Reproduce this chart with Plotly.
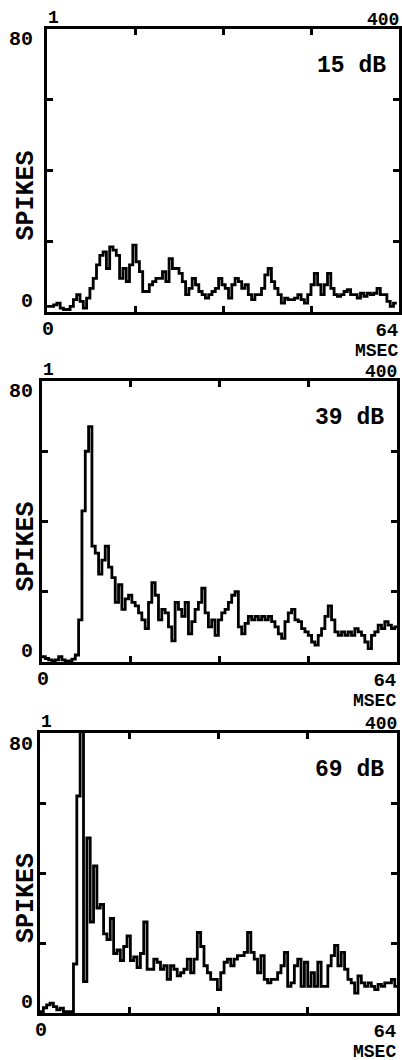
import plotly.graph_objects as go

# ---------------- data (spike counts per 0.6 ms bin) ----------------
BIN_MS = 0.6
X_MAX_MS = 64
Y_MAX_SPIKES = 80
Y_TICKS = [20, 40, 60]
X_TICKS = [16, 32, 48]
LEVELS = ["15 dB", "39 dB", "69 dB"]

spikes_15db = [1.6, 1.6, 2.0, 2.5, 1.1, 0.7, 0.7, 1.6, 3.5, 4.9, 3.0, 1.1, 3.9, 6.7, 9.5,
               13.3, 16.0, 17.0, 12.3, 18.4, 17.5, 16.0, 9.5, 12.3, 8.6, 13.3, 18.9, 14.2,
               11.4, 5.8, 5.8, 7.7, 8.6, 9.5, 9.5, 11.4, 8.6, 15.1, 12.3, 12.3, 10.9, 8.6,
               4.9, 6.7, 9.5, 7.7, 5.8, 4.9, 3.9, 4.9, 5.8, 6.7, 9.5, 7.7, 6.7, 3.9, 7.7,
               9.5, 8.6, 6.7, 7.7, 4.9, 3.5, 4.9, 4.9, 6.7, 10.5, 12.3, 8.6, 6.7, 4.9, 2.5,
               3.9, 3.5, 3.5, 3.9, 4.9, 3.5, 2.5, 4.9, 7.7, 10.9, 7.7, 4.9, 7.7, 10.9, 6.7,
               4.9, 4.4, 4.9, 5.8, 6.3, 4.9, 4.9, 3.9, 5.3, 4.4, 5.3, 4.9, 5.3, 6.7, 4.9,
               4.9, 3.0, 1.6, 2.5]

spikes_39db = [1.5, 1.0, 0.6, 0.3, 0.6, 1.5, 0.6, 0.2, 0.3, 0.8, 2.0, 12.0, 43.0, 60.0,
               67.0, 33.0, 31.0, 25.0, 29.0, 33.0, 27.0, 24.0, 17.0, 22.0, 15.0, 18.0, 19.0,
               17.0, 16.0, 14.0, 12.0, 9.5, 17.0, 22.6, 19.0, 12.0, 15.0, 14.0, 10.0, 6.0,
               17.0, 15.0, 13.0, 17.0, 8.0, 11.5, 15.0, 17.0, 21.0, 14.0, 10.0, 12.0, 7.6,
               12.0, 14.0, 15.0, 17.0, 19.0, 20.0, 10.0, 8.0, 11.0, 13.0, 12.0, 13.0, 12.0,
               13.0, 12.0, 13.0, 11.5, 10.0, 8.0, 6.7, 11.5, 14.0, 15.0, 12.0, 11.5, 9.5,
               8.6, 7.6, 5.7, 4.8, 7.6, 9.5, 13.0, 16.0, 12.0, 8.6, 7.6, 8.6, 7.6, 8.6, 7.6,
               9.5, 8.6, 7.6, 5.7, 3.8, 7.6, 8.6, 10.5, 9.5, 11.5, 10.5, 9.5, 10.0]

spikes_69db = [0.4, 1.5, 2.3, 2.8, 1.8, 0.9, 1.4, 0.4, 0.4, 0.4, 14.0, 62.0, 95.0, 9.0,
               50.0, 26.0, 42.0, 30.0, 31.0, 22.6, 21.0, 27.0, 17.0, 18.0, 15.0, 19.0, 22.0,
               15.0, 16.0, 13.0, 17.0, 26.0, 12.5, 12.5, 15.4, 14.5, 12.5, 13.5, 9.6, 13.5,
               12.5, 10.6, 11.5, 12.5, 15.4, 11.5, 15.4, 23.0, 19.0, 13.5, 11.5, 9.6, 9.6,
               6.7, 11.5, 14.5, 15.4, 13.5, 15.4, 16.4, 16.4, 17.3, 23.0, 17.3, 15.4, 11.5,
               16.4, 9.6, 8.6, 9.6, 9.6, 11.5, 13.5, 17.3, 7.6, 8.6, 13.5, 15.4, 7.6, 14.5,
               7.6, 11.5, 7.6, 14.5, 7.6, 7.6, 13.5, 16.4, 19.3, 13.5, 17.3, 12.5, 9.6, 8.6,
               5.7, 10.6, 8.6, 7.6, 8.6, 7.6, 6.7, 8.2, 7.6, 8.6, 8.6, 9.6, 7.6]

SERIES = [spikes_15db, spikes_39db, spikes_69db]

# ---------------- layout geometry (pixels of the 402x1060 page) ----------------
W, H = 402, 1060
# frame (left, right, top, bottom) of each panel in pixels
FRAMES = [(47, 399, 29, 312), (42, 397, 381, 662), (40, 397, 733, 1013)]

FONT = "Liberation Mono, Courier New, monospace"


def px_x(p):
    return p / W


def px_y(p):
    return 1 - p / H


fig = go.Figure()
annotations = []

for i, (vals, level, (L, R, T, B)) in enumerate(zip(SERIES, LEVELS, FRAMES)):
    n = i + 1
    xa = "x" if n == 1 else f"x{n}"
    ya = "y" if n == 1 else f"y{n}"
    edges = [k * BIN_MS for k in range(len(vals) + 1)]
    fig.add_trace(go.Scatter(
        x=edges, y=list(vals) + [vals[-1]], mode="lines",
        line=dict(color="black", width=2.8, shape="hv"),
        xaxis=xa, yaxis=ya, showlegend=False, hoverinfo="skip",
    ))
    axis_common = dict(showline=True, linecolor="black", linewidth=2.8, mirror="ticks",
                       ticks="inside", ticklen=6, tickwidth=2.5, tickcolor="black",
                       showticklabels=False, showgrid=False, zeroline=False,
                       fixedrange=True)
    fig.update_layout({
        ("xaxis" if n == 1 else f"xaxis{n}"): dict(
            domain=[px_x(L), px_x(R)], range=[0, X_MAX_MS], tickvals=X_TICKS,
            anchor=ya, **axis_common),
        ("yaxis" if n == 1 else f"yaxis{n}"): dict(
            domain=[px_y(B), px_y(T)], range=[0, Y_MAX_SPIKES], tickvals=Y_TICKS,
            anchor=xa, **axis_common),
    })

    def ann(text, x, y, xanchor="center", size=17, angle=0, yanchor="middle",
            align="center"):
        annotations.append(dict(
            text=text, x=px_x(x), y=px_y(y), xref="paper", yref="paper",
            xanchor=xanchor, yanchor=yanchor, showarrow=False, textangle=angle,
            align=align, font=dict(family=FONT, size=size, color="black")))

    ann("<b>1</b>", L + 6, T - 11, size=18)
    ann("<b>400</b>", R + 2, T - 9, xanchor="right", size=18)
    ann(f"<b>{Y_MAX_SPIKES}</b>", 35, T + 11, xanchor="right", size=20)
    ann("<b>0</b>", 35, B - 11, xanchor="right", size=20)
    ann("<b>SPIKES</b>", 26, (T + B) / 2 + 25, size=25, angle=-90)
    ann(f"<b>{level}</b>", R - 48, T + 37, size=23)
    ann("<b>0</b>", L + 1, B + 17, size=20)
    # "64" with the unit "MSEC" stacked underneath, as one right-aligned block
    ann(f"<b><span style='font-size:19px'>{X_MAX_MS}</span><br>"
        f"<span style='font-size:18px'>MSEC</span></b>",
        R + 1, B + 6, xanchor="right", yanchor="top", size=15, align="right")

fig.update_layout(
    width=W, height=H, margin=dict(l=0, r=0, t=0, b=0),
    paper_bgcolor="white", plot_bgcolor="white",
    annotations=annotations,
)

fig.write_html("out.html")
